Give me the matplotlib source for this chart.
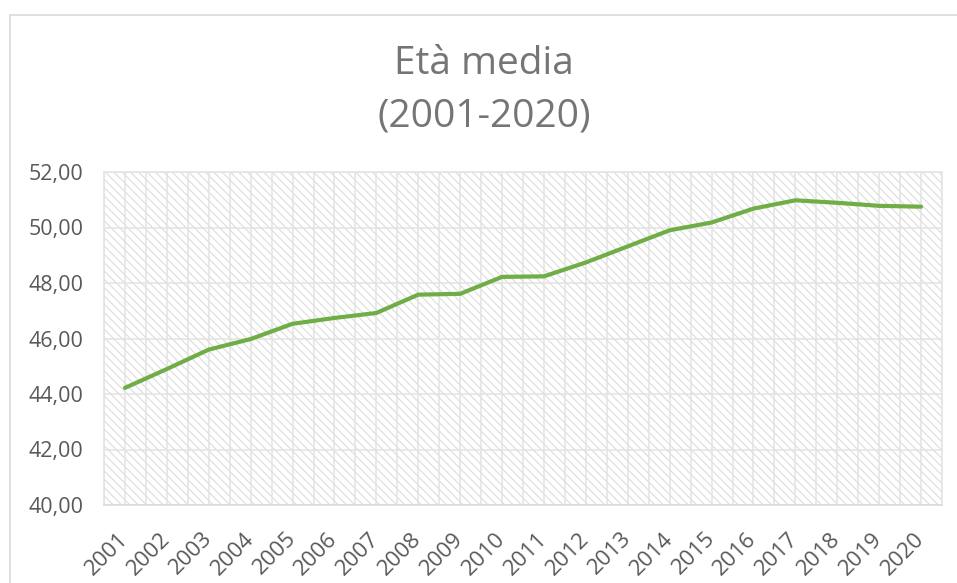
import matplotlib
matplotlib.use("Agg")
import matplotlib.pyplot as plt
from matplotlib.patches import Rectangle
from matplotlib.ticker import FuncFormatter, MultipleLocator

years = [str(y) for y in range(2001, 2021)]
eta_media = [44.22, 44.90, 45.60, 45.98, 46.53, 46.74, 46.92, 47.58, 47.61, 48.22,
             48.24, 48.74, 49.32, 49.90, 50.18, 50.68, 50.98, 50.89, 50.78, 50.75]

plt.rcParams['font.family'] = ['Open Sans', 'DejaVu Sans']
plt.rcParams['hatch.linewidth'] = 0.8

fig = plt.figure(figsize=(9.57, 5.83), dpi=100)
ax = fig.add_axes([104 / 957, 1 - 505 / 583, (942 - 104) / 957, (505 - 172) / 583])

# chart area border (runs off the right/bottom edge like the screenshot)
fig.add_artist(Rectangle((10 / 957, -0.1), 1.2, 1 - 15 / 583 + 0.1, transform=fig.transFigure,
                         fill=False, edgecolor='#D9D9D9', lw=1.2))

x = list(range(1, len(years) + 1))

# hatched plot area background
ax.add_patch(Rectangle((0, 0), 1, 1, transform=ax.transAxes, facecolor='white',
                       edgecolor='#DCDCDC', hatch='\\\\\\\\', lw=0, zorder=0.2))

ax.plot(x, eta_media, color='#70AD47', lw=3, solid_capstyle='round', zorder=3)

ax.set_xlim(0.5, len(years) + 0.5)
ax.set_ylim(40, 52)
ax.yaxis.set_major_locator(MultipleLocator(2))
ax.yaxis.set_major_formatter(FuncFormatter(lambda v, p: f"{v:.2f}".replace('.', ',')))
ax.set_xticks(x)
ax.set_xticks([i + 0.5 for i in range(0, len(years) + 1)], minor=True)
ax.set_xticklabels(years, rotation=45, ha='right', va='center', rotation_mode='anchor')

ax.set_axisbelow(True)
ax.grid(True, which='both', axis='x', color='#E3E3E3', lw=1.1)
ax.grid(True, which='major', axis='y', color='#E3E3E3', lw=1.1)

ax.tick_params(axis='both', which='both', length=0, colors='#595959')
ax.tick_params(axis='y', pad=15, labelsize=15.5)
ax.tick_params(axis='x', pad=22, labelsize=16)
for s in ax.spines.values():
    s.set_color('#E3E3E3')
    s.set_linewidth(1.1)
ax.spines['bottom'].set_color('#D9D9D9')

fig.text(484 / 957, 1 - 64 / 583, "Età media", ha='center', va='center',
         fontsize=28, color='#757575')
fig.text(484 / 957, 1 - 116 / 583, "(2001-2020)", ha='center', va='center',
         fontsize=28, color='#757575')

fig.savefig('out.png', dpi=100, facecolor='white')
